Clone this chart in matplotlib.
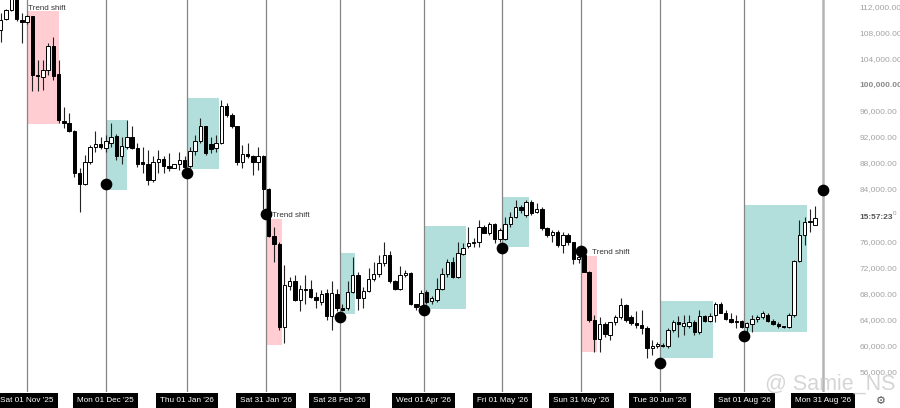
"""
Two-day candles with trend-shift boxes and monthly markers.
"""

import numpy as np
import pandas as pd
import matplotlib
matplotlib.use('Agg')
import matplotlib.pyplot as plt
import matplotlib.dates as mdates
import matplotlib.transforms as mtransforms

# candle data (2-day candles starting 22 Oct 2025)
start_date = '2025-10-22'
opens = [108400, 110100, 111500, 113200, 110000, 109600, 110500, 101500, 101200, 102300,
         106000, 101600, 94500, 94200, 92900, 86500, 84700, 88200, 90400, 90900,
         90300, 91100, 92100, 89100, 90500, 92000, 90300, 88100, 87800, 85400,
         88200, 88600, 87600, 87300, 87800, 88400, 87500, 89900, 91300, 93600,
         90900, 90300, 91000, 96800, 95400, 93600, 88200, 89300, 89000, 88200,
         89100, 84000, 76800, 75600, 62800, 69100, 69900, 66900, 68700, 68600,
         67400, 66700, 68000, 64500, 67900, 65700, 65700, 68200, 70800, 67200,
         68400, 70100, 70900, 72700, 73900, 69800, 68700, 70800, 71100, 66300,
         66000, 68200, 66800, 67000, 68700, 70900, 72800, 70500, 74000, 75300,
         75700, 75800, 78100, 77300, 78600, 76300, 76300, 78600, 79700, 81300,
         80000, 82000, 80500, 80900, 78000, 76900, 77400, 75400, 76900, 75800,
         73300, 73900, 71300, 63900, 60900, 63300, 61600, 63500, 64400, 66200,
         64400, 63400, 63100, 62600, 59500, 59900, 60100, 59900, 62300, 63500,
         62900, 63000, 63600, 62100, 64500, 63800, 64600, 66400, 65000, 64100,
         63700, 63700, 62800, 63300, 64000, 64300, 64700, 63800, 63300, 63000,
         62800, 64600, 72900, 76900, 78900, 78500]
highs = [111000, 111700, 113800, 113800, 111000, 110700, 110600, 103800, 103800, 106500,
         107400, 103800, 96600, 95600, 93000, 87200, 89200, 90800, 92900, 92000,
         92300, 94100, 92500, 92000, 94600, 93600, 91000, 90500, 90000, 89000,
         90000, 89000, 89500, 87900, 89700, 89000, 90500, 92300, 94900, 93700,
         92000, 92300, 97700, 97200, 95600, 93700, 90800, 91000, 89200, 90500,
         89200, 84100, 78200, 75900, 72300, 70500, 70800, 69300, 70800, 70000,
         68200, 68500, 68700, 69900, 68600, 66400, 69800, 73600, 71300, 69000,
         71800, 72800, 73900, 75900, 74400, 70000, 72100, 71600, 71300, 66400,
         68500, 68500, 67500, 70300, 71800, 73300, 73600, 75900, 75700, 78200,
         76400, 79200, 78500, 79000, 78700, 78000, 79700, 80400, 82300, 81500,
         82300, 82300, 81800, 81300, 78200, 77700, 77700, 77400, 77200, 75900,
         73900, 74400, 71400, 64600, 64400, 63600, 63600, 64600, 67200, 66400,
         64600, 65200, 65400, 62900, 60800, 60500, 60300, 62600, 63900, 64500,
         64600, 64600, 63900, 65400, 64600, 64900, 66700, 66700, 65400, 64900,
         64600, 63900, 63600, 64600, 64600, 65200, 65000, 64000, 63600, 63000,
         64900, 73100, 79200, 79700, 81000, 81400]
lows = [106600, 109900, 111300, 109800, 106400, 109400, 99100, 99100, 99200, 101500,
        100800, 94100, 93300, 92800, 85900, 80500, 84600, 87900, 89700, 90200,
        89700, 90500, 88500, 87800, 90200, 90200, 87400, 86400, 84600, 85100,
        86400, 86400, 86700, 87200, 86900, 86900, 87200, 89200, 91000, 89200,
        89600, 89700, 90900, 95100, 93300, 87700, 87200, 88700, 86100, 86900,
        81000, 76700, 72800, 62300, 60300, 68500, 66800, 65200, 66400, 67200,
        65700, 66200, 63900, 62400, 65200, 65300, 65400, 68000, 65400, 65700,
        68200, 69800, 70500, 72100, 69600, 68500, 68500, 70500, 66200, 65400,
        65700, 66400, 66400, 66700, 68500, 70500, 70400, 70400, 73900, 74900,
        75100, 75100, 77200, 76900, 75700, 75900, 76200, 78200, 79500, 80300,
        79700, 80000, 80300, 77700, 76700, 75900, 75100, 74100, 75400, 72500,
        72600, 71200, 63600, 59000, 59000, 61300, 60800, 63100, 64100, 63600,
        63100, 62600, 61800, 58100, 58500, 59500, 59800, 59500, 62100, 61300,
        61600, 62600, 61600, 61800, 63600, 63600, 63600, 64900, 63900, 63400,
        62600, 62600, 62100, 62100, 63600, 64000, 63600, 63100, 62700, 62600,
        62600, 64400, 72800, 75400, 77400, 78400]
closes = [110000, 111500, 113300, 110100, 109700, 110600, 101500, 101300, 102300, 106000,
          101400, 94600, 94200, 92900, 86400, 84700, 88200, 90500, 90900, 90400,
          91300, 92000, 89100, 90600, 92000, 90300, 87900, 87800, 85400, 88200,
          88600, 87500, 87300, 87800, 88400, 87400, 89900, 91300, 93700, 89500,
          90200, 91100, 96700, 95400, 93600, 88200, 89300, 89000, 88200, 89100,
          84000, 76800, 75600, 62800, 69300, 69900, 66900, 68600, 68500, 67400,
          66900, 67900, 64500, 68000, 65700, 65400, 68200, 70800, 67200, 68300,
          70100, 70900, 72700, 73900, 69800, 68700, 70800, 71100, 66300, 65900,
          68100, 66700, 67200, 68700, 70900, 72800, 70500, 74100, 75000, 75700,
          75900, 78100, 77300, 78600, 76300, 77700, 78600, 79700, 81300, 80800,
          82000, 80300, 80900, 78000, 76900, 77400, 75400, 76900, 75800, 73300,
          73600, 71300, 63900, 60900, 63300, 61700, 63500, 64400, 66200, 63900,
          63400, 63100, 62600, 59500, 59900, 60200, 59900, 62300, 63500, 63300,
          63400, 63600, 62100, 64500, 63800, 64500, 66400, 65000, 64100, 63600,
          63500, 62800, 63400, 64000, 64300, 64900, 63800, 63300, 62900, 62800,
          64600, 72900, 76900, 79000, 79000, 79600]

# monthly marker lines and the dot drawn on each
line_dates = ['2025-11-01', '2025-12-01', '2026-01-01', '2026-01-31', '2026-02-28',
              '2026-04-01', '2026-05-01', '2026-05-31', '2026-06-30', '2026-08-01',
              '2026-08-31']
dot_dates = ['2025-12-01', '2026-01-01', '2026-01-31', '2026-02-28', '2026-04-01',
             '2026-05-01', '2026-05-31', '2026-06-30', '2026-08-01', '2026-08-31']
dot_prices = [84800, 86500, 80200, 64300, 65400, 74900, 74500, 57300, 61400, 83800]

# shaded zones: start, end, low, high, kind
zone_start = ['2025-11-01', '2025-12-01', '2026-01-01', '2026-01-31', '2026-02-28',
              '2026-04-01', '2026-05-01', '2026-05-31', '2026-06-30', '2026-08-01']
zone_end = ['2025-11-13', '2025-12-09', '2026-01-13', '2026-02-06', '2026-03-06',
            '2026-04-17', '2026-05-11', '2026-06-06', '2026-07-20', '2026-08-25']
zone_low = [94000, 83800, 87100, 60000, 64800, 65600, 75100, 59000, 58000, 62000]
zone_high = [111300, 94600, 98000, 79400, 74100, 78300, 82800, 73700, 66800, 81500]
zone_bear = [True, False, False, True, False, False, False, True, False, False]

# "Trend shift" notes
note_dates = ['2025-11-01', '2026-01-31', '2026-05-31']
note_prices = [111800, 80000, 74300]

yticks = list(range(56000, 112001, 4000))
countdown = '15:57:23'

PINK = '#ffcdd2'
TEAL = '#b2dfdb'


def main():
    plt.rcParams['font.family'] = ['Liberation Sans', 'DejaVu Sans']

    fig = plt.figure(figsize=(9, 4.08), dpi=100)
    ax = fig.add_axes([0, 16 / 408, 855 / 900, 392 / 408])

    dates = pd.date_range(start_date, periods=len(opens), freq='2D')
    x = mdates.date2num(dates)
    o = np.array(opens, float)
    h = np.array(highs, float)
    l = np.array(lows, float)
    c = np.array(closes, float)

    nov1 = mdates.date2num(pd.Timestamp('2025-11-01'))
    ax.set_xlim(nov1 - 10.3, nov1 + 315.2)
    ax.set_ylim(52818, 113029)

    # zones
    for s, e, lo, hi, bear in zip(zone_start, zone_end, zone_low, zone_high, zone_bear):
        xs = mdates.date2num(pd.Timestamp(s))
        xe = mdates.date2num(pd.Timestamp(e))
        ax.fill_between([xs, xe], lo, hi, color=PINK if bear else TEAL,
                        lw=0, zorder=1)

    # monthly lines
    lx = mdates.date2num(pd.to_datetime(line_dates))
    for i, v in enumerate(lx):
        if i == len(lx) - 1:
            ax.axvline(v, color='#b4b4b4', lw=1.8, zorder=2)
        else:
            ax.axvline(v, color='#858585', lw=0.9, zorder=2)

    # candles
    ax.vlines(x, l, h, color='#222222', lw=0.8, zorder=3)
    up = c >= o
    bottom = np.minimum(o, c)
    height = np.maximum(np.abs(c - o), 160)
    ax.bar(x[up], height[up], bottom=bottom[up], width=1.3, color='white',
           edgecolor='black', lw=0.7, zorder=4)
    ax.bar(x[~up], height[~up], bottom=bottom[~up], width=1.3, color='black',
           edgecolor='black', lw=0.7, zorder=4)

    # dots
    dx = mdates.date2num(pd.to_datetime(dot_dates))
    ax.scatter(dx, dot_prices, s=55, color='black', zorder=6)

    for d, p in zip(note_dates, note_prices):
        nx = mdates.date2num(pd.Timestamp(d))
        off = 0.4 if p > 100000 else 2.4
        if d == '2026-05-31':
            off = 4.2
        ax.text(nx + off, p, 'Trend shift', fontsize=5.8, color='#333333',
                ha='left', va='center', zorder=7)

    # price scale on the right (80,000 is covered by the countdown)
    for sp in ax.spines.values():
        sp.set_visible(False)
    ax.set_xticks([])
    ax.yaxis.tick_right()
    ax.set_yticks(yticks)
    ax.set_yticklabels(['' if v == 80000 else '{:,.2f}'.format(v) for v in yticks])
    ax.tick_params(axis='y', length=0, pad=3, labelsize=6.0, labelcolor='#a3a3a3')
    for lab, v in zip(ax.get_yticklabels(), yticks):
        if v == 100000:
            lab.set_color('#8a8a8a')
            lab.set_fontweight('bold')

    trans = mtransforms.blended_transform_factory(ax.transAxes, ax.transData)
    ax.text(1 + 4 / 855, closes[-1], countdown, transform=trans, fontsize=6.0,
            color='#555555', fontweight='bold', ha='left', va='center', clip_on=False)
    ax.text(1 + 38 / 855, closes[-1] + 700, '0', transform=trans, fontsize=4.5,
            color='#999999', ha='left', va='center', clip_on=False)

    # date labels in black boxes
    tx = mtransforms.blended_transform_factory(ax.transData, ax.transAxes)
    for d, v in zip(pd.to_datetime(line_dates), lx):
        ax.text(v, -8.5 / 392, d.strftime("%a %d %b '%y"), transform=tx,
                fontsize=5.9, color='white', ha='center', va='center',
                clip_on=False,
                bbox=dict(boxstyle='square,pad=0.5', fc='black', ec='none'))

    fig.text(881 / 900, 1 - 401 / 408, '\u2699', fontsize=8, color='#555555',
             ha='center', va='center', family='DejaVu Sans')

    # watermark
    fig.text(765 / 900, 18 / 408, '@ Samie_NS', fontsize=15.5, color='#c8c8c8',
             alpha=0.75, ha='left', va='baseline', zorder=10)

    fig.savefig('out.png', dpi=100)


if __name__ == '__main__':
    main()
